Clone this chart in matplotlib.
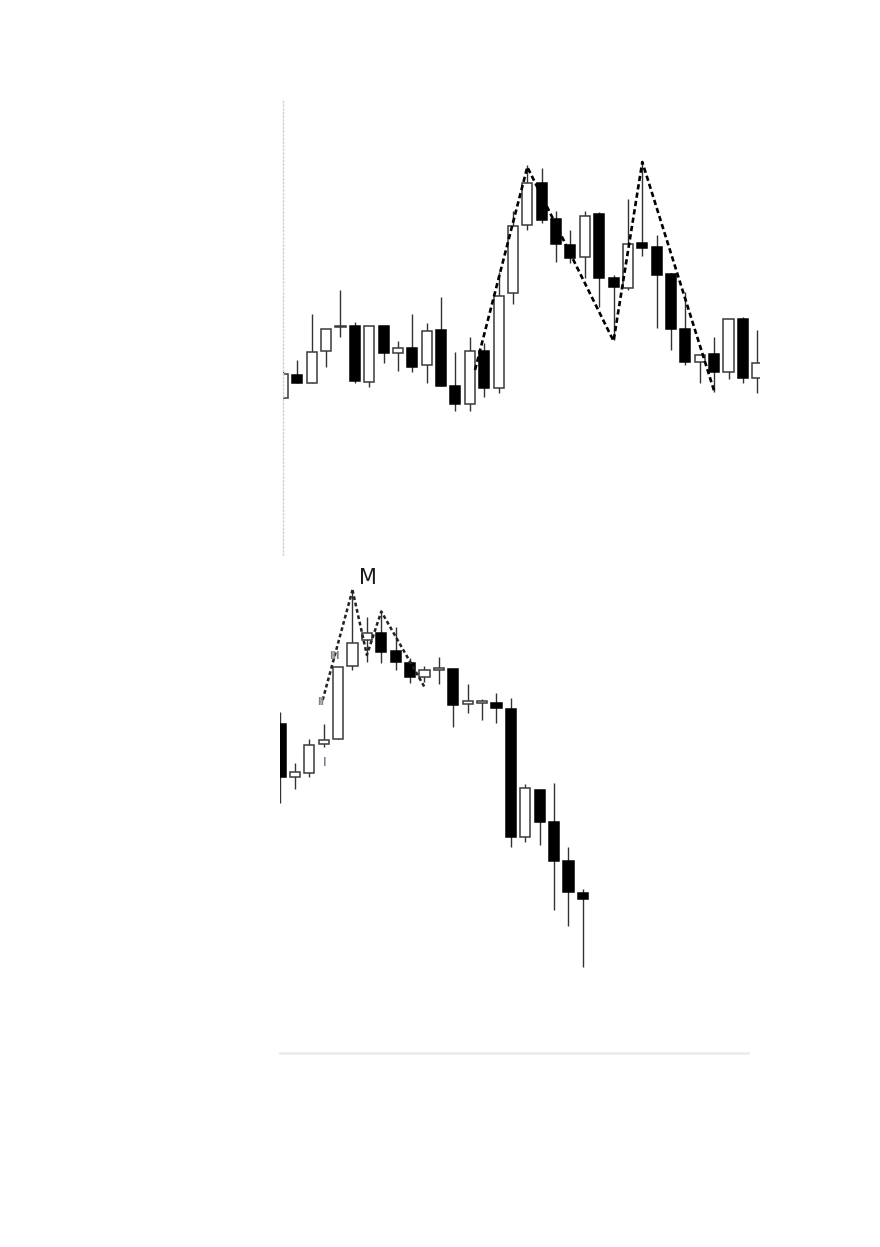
import numpy as np
import matplotlib.pyplot as plt
from matplotlib.lines import Line2D

# top chart: double top, prices
top_open = [202, 225, 217, 249, 273, 274, 218, 274, 247, 252, 235, 270, 214, 196, 249, 212, 307,
            375, 417, 381, 355, 343, 386, 322, 312, 357, 353, 326, 271, 238, 246, 228, 281, 222]
top_high = [229, 240, 286, 271, 310, 278, 274, 274, 259, 286, 277, 303, 248, 263, 257, 328, 389,
            435, 432, 389, 370, 389, 388, 325, 401, 438, 365, 327, 308, 245, 263, 281, 283, 270]
top_low = [202, 217, 217, 233, 263, 217, 213, 237, 229, 228, 217, 214, 189, 189, 203, 207, 296,
           370, 377, 338, 337, 322, 293, 260, 310, 344, 272, 250, 235, 217, 208, 221, 217, 207]
top_close = [226, 217, 248, 271, 274, 219, 274, 247, 252, 233, 269, 214, 196, 249, 212, 304, 374,
             417, 380, 356, 342, 384, 322, 313, 356, 352, 325, 271, 238, 245, 228, 281, 222, 237]
top_pattern_x = [13.36, 17, 23, 25, 30]
top_pattern_y = [230, 433, 259, 438, 209]

# bottom chart: M top then the drop
bot_open = [276, 223, 227, 256, 261, 334, 360, 367, 349, 337, 323, 330.5, 331, 296, 297.5, 297,
            291, 163, 210, 178, 139, 107]
bot_high = [288, 237, 261, 276, 333, 410, 383, 388, 373, 342, 334, 343, 331, 316, 301, 307,
            302, 216, 210, 217, 153, 111]
bot_low = [197, 211, 223, 253, 261, 330, 338, 337, 330, 317, 318, 316, 273, 287, 280, 277,
           153, 158, 155, 90, 74, 33]
bot_close = [223, 228, 255, 260, 333, 357, 367, 348, 338, 323, 330, 331, 295, 299, 298, 292,
             163, 212, 178, 139, 108, 101]
bot_pattern_x = [2.93, 5, 6, 7, 10]
bot_pattern_y = [300, 410, 345, 388.5, 313]
bot_labels = ['M', 'I', 'II', 'III']
bot_label_x = [6.06, 3.09, 2.81, 3.72]
bot_label_y = [422, 237, 298, 344]


def draw_candles(ax, o, h, l, c):
    o, h, l, c = map(np.asarray, (o, h, l, c))
    x = np.arange(len(o))
    ax.vlines(x, l, h, color='#333333', lw=1.0, zorder=1)
    up = c >= o
    body = np.maximum(np.abs(c - o), 1.2)
    bottom = np.minimum(o, c)
    ax.bar(x[up], body[up], bottom=bottom[up], width=0.7, color='white',
           edgecolor='#3a3a3a', lw=1.1, zorder=2)
    ax.bar(x[~up], body[~up], bottom=bottom[~up], width=0.7, color='black',
           edgecolor='black', lw=1.1, zorder=2)


fig = plt.figure(figsize=(8.8, 12.47), dpi=100)

ax1 = fig.add_axes([282.5 / 880, 1 - 555 / 1247, 477.5 / 880, 455 / 1247])
draw_candles(ax1, top_open, top_high, top_low, top_close)
ax1.plot(top_pattern_x, top_pattern_y, color='black', ls=(0, (2.0, 1.2)), lw=1.9, zorder=3)
ax1.set_xlim(-0.035, 33.19)
ax1.set_ylim(45, 500)

ax2 = fig.add_axes([280.2 / 880, 1 - 1040 / 1247, 479.8 / 880, 484 / 1247])
draw_candles(ax2, bot_open, bot_high, bot_low, bot_close)
ax2.plot(bot_pattern_x[:2], bot_pattern_y[:2], color='#222222', ls=(0, (1.5, 1.1)), lw=1.8, zorder=3)
ax2.plot(bot_pattern_x[1:], bot_pattern_y[1:], color='#222222', ls=(0, (1.5, 1.1)), lw=1.8, zorder=3)
ax2.set_xlim(-0.02, 33.3)
ax2.set_ylim(-40, 444)

label_style = {
    'M': dict(fontsize=15, color='#1a1a1a', family='DejaVu Sans'),
    'I': dict(fontsize=9, color='#4a5878', family='DejaVu Sans'),
    'II': dict(fontsize=7, color='#808080', fontweight='bold', family='DejaVu Sans'),
    'III': dict(fontsize=7, color='#808080', fontweight='bold', family='DejaVu Sans'),
}
for txt, lx, ly in zip(bot_labels, bot_label_x, bot_label_y):
    ax2.text(lx, ly, txt, ha='center', va='center', zorder=4, **label_style[txt])

for ax in (ax1, ax2):
    ax.set_xticks([])
    ax.set_yticks([])
    for s in ax.spines.values():
        s.set_visible(False)

# dotted border on the left of the upper chart
ax1.spines['left'].set_visible(True)
ax1.spines['left'].set_linestyle(':')
ax1.spines['left'].set_color('#d2d2d2')
ax1.spines['left'].set_linewidth(1.0)

# faint rule under the lower chart
fig.add_artist(Line2D([280 / 880, 748 / 880], [1 - 1052.5 / 1247] * 2,
                      color='#ececec', lw=2.0, transform=fig.transFigure))

plt.savefig('out.png', dpi=100)
